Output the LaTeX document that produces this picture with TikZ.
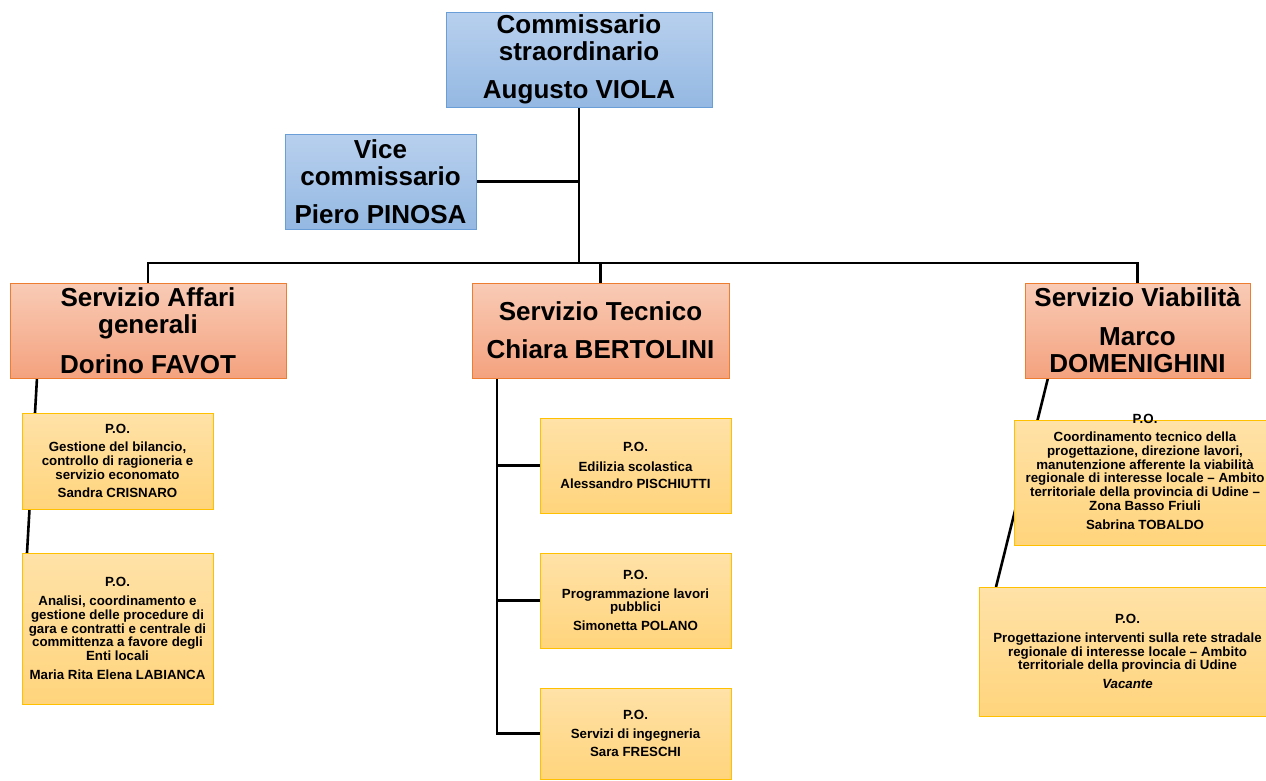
\documentclass[tikz,border=0pt]{standalone}
\usepackage{fontspec}
\setmainfont{Liberation Sans}
\usetikzlibrary{calc}
\pgfdeclarelayer{bg}
\pgfsetlayers{bg,main}
\definecolor{blueT}{HTML}{B8D0EE}
\definecolor{blueB}{HTML}{94B8E2}
\definecolor{blueL}{HTML}{6A9ED6}
\definecolor{orT}{HTML}{F9CBB6}
\definecolor{orB}{HTML}{F4A27E}
\definecolor{orL}{HTML}{ED7D31}
\definecolor{poT}{HTML}{FFE2A8}
\definecolor{poB}{HTML}{FFD47C}
\definecolor{poL}{HTML}{FFC000}
\begin{document}
\begin{tikzpicture}[x=1pt,y=-1pt,
  conn/.style={line width=2.6pt, black},
  headtext/.style={font=\bfseries\fontsize{26}{27}\selectfont, align=center, inner sep=0pt},
  bluebox/.style={headtext, draw=blueL, line width=0.8pt, top color=blueT, bottom color=blueB},
  orbox/.style={headtext, draw=orL, line width=0.8pt, top color=orT, bottom color=orB},
  potext/.style={font=\bfseries\fontsize{13.3}{13.7}\selectfont, align=center, inner sep=0pt},
  pobox/.style={potext, draw=poL, line width=1pt, top color=poT, bottom color=poB}]
\useasboundingbox (0,0) rectangle (1266,780);
\clip (0,0) rectangle (1266,780);

% top level
\node[bluebox, minimum width=266pt, minimum height=95pt] (comm) at (579,59.5)
  {Commissario\\straordinario\\[11pt]Augusto VIOLA};
\node[bluebox, minimum width=191pt, minimum height=95pt] (vice) at (380.5,181.5)
  {Vice\\commissario\\[11pt]Piero PINOSA};

% services
\node[orbox, minimum width=276pt, minimum height=95pt] (aff) at (148,330.5)
  {Servizio Affari\\generali\\[13pt]Dorino FAVOT};
\node[orbox, minimum width=257pt, minimum height=95pt] (tec) at (600.5,330.5)
  {Servizio Tecnico\\[11pt]Chiara BERTOLINI};
\node[orbox, minimum width=225pt, minimum height=95pt] (via) at (1137.5,330.5)
  {Servizio Viabilità\\[12pt]Marco\\DOMENIGHINI};

% left P.O.
\node[pobox, minimum width=191pt, minimum height=96pt] (a1) at (117.5,461)
  {P.O.\\[5pt]Gestione del bilancio,\\controllo di ragioneria e\\servizio economato\\[5pt]Sandra CRISNARO};
\node[pobox, minimum width=191pt, minimum height=151pt] (a2) at (117.5,628.5)
  {P.O.\\[5pt]Analisi, coordinamento e\\gestione delle procedure di\\gara e contratti e centrale di\\committenza a favore degli\\Enti locali\\[5pt]Maria Rita Elena LABIANCA};

% middle P.O.
\node[pobox, minimum width=191pt, minimum height=95pt] (t1) at (635.5,465.5)
  {P.O.\\[6pt]Edilizia scolastica\\[4pt]Alessandro PISCHIUTTI};
\node[pobox, minimum width=191pt, minimum height=95pt] (t2) at (635.5,600.5)
  {P.O.\\[5pt]Programmazione lavori\\pubblici\\[5pt]Simonetta POLANO};
\node[pobox, minimum width=191pt, minimum height=91pt] (t3) at (635.5,733.5)
  {P.O.\\[5pt]Servizi di ingegneria\\[5pt]Sara FRESCHI};

% right P.O.
\node[pobox, minimum width=262pt, minimum height=125pt] (v1) at (1145,482.5) {};
\node[potext] (v1t) at (1145,471.5)
  {P.O.\\[5pt]Coordinamento tecnico della\\progettazione, direzione lavori,\\manutenzione afferente la viabilità\\regionale di interesse locale – Ambito\\territoriale della provincia di Udine –\\Zona Basso Friuli\\[5pt]Sabrina TOBALDO};
\node[pobox, minimum width=297pt, minimum height=129pt] (v2) at (1127.5,651.5)
  {P.O.\\[5pt]Progettazione interventi sulla rete stradale\\regionale di interesse locale – Ambito\\territoriale della provincia di Udine\\[5pt]\textit{Vacante}};

% connectors
\begin{pgfonlayer}{bg}
  \coordinate (bus) at (579,263);
  \draw[conn] (comm.south) -- (bus);
  \draw[conn] (vice.east) -- (vice.east -| comm.south);
  \draw[conn] (aff.north) -- (aff.north |- bus) -- (via.north |- bus) -- (via.north);
  \draw[conn] (tec.north) -- (tec.north |- bus);
  \coordinate (la) at (37,378);
  \coordinate (lb) at (27,553);
  \draw[conn] (la) -- (lb);
  \coordinate (mt) at (497,378);
  \draw[conn] (mt) |- (t3.west);
  \draw[conn] (t1.west) -- (t1.west -| mt);
  \draw[conn] (t2.west) -- (t2.west -| mt);
  \coordinate (ra) at (1048,378);
  \coordinate (rb) at (996,587);
  \draw[conn] (ra) -- (rb);
\end{pgfonlayer}
\end{tikzpicture}
\end{document}
